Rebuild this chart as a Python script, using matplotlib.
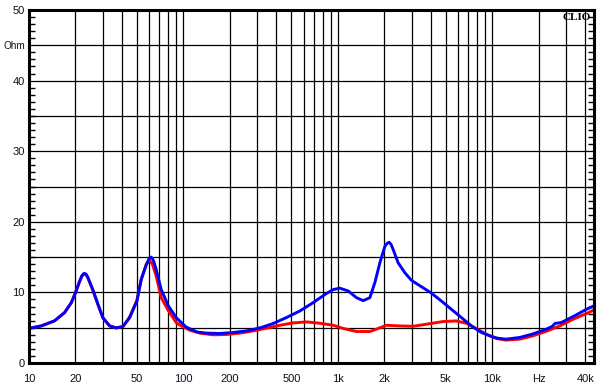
import matplotlib
matplotlib.use("Agg")
import matplotlib.pyplot as plt
from matplotlib.ticker import FixedLocator, NullFormatter, NullLocator

# ---- data ----
freq_blue = [10, 12, 14.6, 17, 18.8, 20, 21.3, 22.0, 22.7, 23.4, 24.1, 25.9, 28, 30.1, 33.3,
             36.7, 40.6, 44.8, 50, 53.3, 57.5, 59.7, 61.9, 64.0, 66.7, 71.8, 80, 90, 104,
             122, 141, 172, 210, 256, 313, 381, 465, 568, 692, 845, 934, 1030, 1168, 1322,
             1460, 1612, 1738, 1872, 2015, 2085, 2149, 2210, 2280, 2456, 2714, 3000, 3480,
             4000, 4690, 5440, 6310, 7330, 8510, 9880, 10900, 12300, 15100, 18400, 22400,
             24500, 25500, 28000, 33400, 40700, 45500]
z_blue = [4.9, 5.25, 5.96, 7.14, 8.55, 9.96, 11.6, 12.35, 12.7, 12.6, 12.1, 10.4, 8.3, 6.4,
          5.25, 4.97, 5.17, 6.4, 8.77, 11.8, 13.9, 14.7, 15.0, 14.5, 13.2, 10.4, 8.07, 6.4,
          5.1, 4.4, 4.23, 4.18, 4.32, 4.55, 4.97, 5.59, 6.44, 7.37, 8.55, 9.86, 10.4, 10.6,
          10.2, 9.25, 8.83, 9.25, 11.4, 14.2, 16.5, 16.95, 17.1, 16.8, 16.1, 14.2, 12.8, 11.7,
          10.8, 9.96, 8.77, 7.6, 6.44, 5.25, 4.32, 3.76, 3.5, 3.38, 3.62, 4.13, 4.79,
          5.2, 5.6, 5.73, 6.58, 7.6, 8.1]

freq_red = [10, 12, 14.6, 17, 18.8, 20, 21.3, 22.0, 22.7, 23.4, 24.1, 25.9, 28, 30.1, 33.3,
            36.7, 40.6, 44.8, 50, 53.3, 57.5, 60, 63, 66.7, 71.8, 80, 90, 95, 110, 128, 156,
            190, 232, 283, 346, 422, 514, 627, 765, 934, 1084, 1322, 1612, 1824, 2066,
            2518, 3070, 3740, 4800, 5850, 6790, 7880, 9150, 10600, 12300, 15100, 18400,
            22400, 27400, 33400, 40700, 45500]
z_red = [4.9, 5.25, 5.96, 7.14, 8.55, 9.96, 11.6, 12.3, 12.6, 12.5, 12.0, 10.3, 8.2, 6.4,
         5.25, 4.97, 5.17, 6.5, 8.9, 11.9, 14.0, 14.55, 14.0, 12.3, 9.25, 7.4, 5.7, 5.35,
         4.65, 4.23, 3.99, 4.04, 4.23, 4.55, 4.93, 5.35, 5.68, 5.82, 5.63, 5.35, 4.89, 4.46,
         4.46, 4.89, 5.35, 5.25, 5.2, 5.49, 5.87, 5.96, 5.63, 4.89, 4.08, 3.48, 3.24, 3.38,
         3.85, 4.5, 5.25, 6.2, 7.0, 7.5]

x_tick_values = [10, 20, 50, 100, 200, 500, 1000, 2000, 5000, 10000, 20000, 40000]
x_tick_labels = ["10", "20", "50", "100", "200", "500", "1k", "2k", "5k", "10k", "Hz", "40k"]
y_tick_values = [0, 10, 20, 30, 40, 45, 50]
y_tick_labels = ["0", "10", "20", "30", "40", "Ohm", "50"]

# ---- figure ----
W, H = 604, 391
plt.rcParams['font.family'] = ['Liberation Sans', 'DejaVu Sans']
fig = plt.figure(figsize=(W / 100, H / 100), dpi=100)
fig.patch.set_facecolor("white")
ax = fig.add_axes([29 / W, 1 - 363 / H, (594 - 29) / W, (363 - 10) / H])

ax.set_xscale("log")
ax.set_xlim(10, 45600)
ax.set_ylim(0, 50)

# grid
vgrid = []
for dec in [10, 100, 1000, 10000]:
    for m in range(1, 10):
        v = dec * m
        if 10 < v <= 40000:
            vgrid.append(v)
for v in vgrid:
    ax.axvline(v, color="black", lw=0.9, zorder=1)
for yv in range(5, 50, 5):
    ax.axhline(yv, color="black", lw=0.9, zorder=1)

ax.plot(freq_red, z_red, color="#ff0000", lw=2.1, zorder=3,
        solid_joinstyle="round", solid_capstyle="round")
ax.plot(freq_blue, z_blue, color="#0000ff", lw=2.1, zorder=4,
        solid_joinstyle="round", solid_capstyle="round")

# ticks
ax.xaxis.set_major_locator(FixedLocator(x_tick_values))
ax.xaxis.set_minor_locator(NullLocator())
ax.set_xticklabels(x_tick_labels)
ax.xaxis.set_minor_formatter(NullFormatter())
ax.tick_params(axis="x", which="both", length=0, pad=8, labelsize=8, labelcolor="#101020")

ax.set_yticks(y_tick_values)
ax.set_yticklabels(y_tick_labels)
ax.set_yticks(range(0, 51), minor=True)
ax.tick_params(axis="y", which="major", length=0, pad=3, labelsize=8, labelcolor="#101020")
ax.tick_params(axis="y", which="minor", direction="in", length=4, width=1,
               left=True, right=True, color="black")
for lab in ax.get_yticklabels():
    if lab.get_text() == "Ohm":
        lab.set_fontsize(7.2)

for s in ax.spines.values():
    s.set_linewidth(2.2)
    s.set_color("black")
    s.set_zorder(5)

ax.text(0.995, 0.992, "CLIO", transform=ax.transAxes, ha="right", va="top",
        fontsize=8, fontweight="bold", family=["Liberation Serif", "DejaVu Serif"],
        color="black", zorder=6)

fig.savefig("out.png", dpi=100, facecolor="white")
